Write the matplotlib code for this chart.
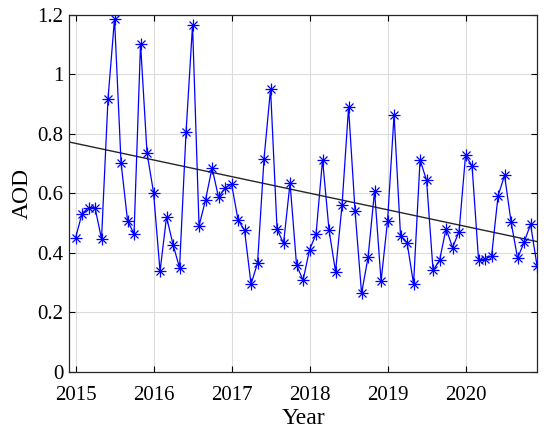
import numpy as np
import matplotlib
matplotlib.use('Agg')
import matplotlib.pyplot as plt

# monthly AOD, Jan 2015 .. Dec 2020
aod = [0.450, 0.532, 0.552, 0.552, 0.447, 0.919, 1.188, 0.704, 0.509, 0.464, 1.104, 0.736,
       0.603, 0.338, 0.521, 0.428, 0.350, 0.806, 1.166, 0.491, 0.578, 0.686, 0.587, 0.618,
       0.632, 0.511, 0.476, 0.295, 0.366, 0.717, 0.952, 0.480, 0.432, 0.635, 0.359, 0.308,
       0.411, 0.463, 0.714, 0.476, 0.337, 0.561, 0.889, 0.541, 0.264, 0.385, 0.608, 0.305,
       0.508, 0.865, 0.456, 0.435, 0.296, 0.713, 0.644, 0.341, 0.375, 0.482, 0.418, 0.472,
       0.729, 0.692, 0.376, 0.380, 0.389, 0.592, 0.661, 0.504, 0.382, 0.436, 0.496, 0.356]
start_year = 2015
# trend line ends (as drawn in the reference)
trend_x = [2014.917, 2020.917]
trend_y = [0.773, 0.438]
year_ticks = [2015, 2016, 2017, 2018, 2019, 2020]
aod_ticks = [0, 0.2, 0.4, 0.6, 0.8, 1.0, 1.2]
aod_labels = ['0', '0.2', '0.4', '0.6', '0.8', '1', '1.2']

t = start_year + np.arange(len(aod)) / 12.0

plt.rcParams['font.family'] = ['Liberation Serif', 'DejaVu Serif']

fig = plt.figure(figsize=(5.5, 4.37), dpi=100)
ax = fig.add_axes([0.1255, 0.149, 0.851, 0.8167])

ax.plot(trend_x, trend_y, color='#262626', lw=1.0, zorder=2)

# matlab style '*' marker = '+' and 'x' on top of each other
ax.plot(t, aod, color='blue', lw=0.9, zorder=3)
ax.plot(t, aod, ls='none', color='blue', marker='+', markersize=8,
        markeredgewidth=0.9, zorder=4)
ax.plot(t, aod, ls='none', color='blue', marker='x', markersize=6,
        markeredgewidth=0.9, zorder=4)

ax.set_xlim(t[0] - 1/12.0, t[-1])
ax.set_ylim(0, 1.2)
ax.set_xticks(year_ticks)
ax.set_yticks(aod_ticks)
ax.set_yticklabels(aod_labels)
ax.grid(True, color='#dcdcdc', lw=0.8)
ax.set_axisbelow(True)
ax.tick_params(direction='in', top=True, right=True, labelsize=15,
               length=4, width=0.8)
ax.tick_params(axis='x', pad=10)
ax.tick_params(axis='y', pad=4)
for s in ax.spines.values():
    s.set_linewidth(0.9)
    s.set_color('#262626')
ax.set_xlabel('Year', fontsize=17, labelpad=2)
ax.set_ylabel('AOD', fontsize=17, labelpad=3)

fig.savefig('out.png', dpi=100)
